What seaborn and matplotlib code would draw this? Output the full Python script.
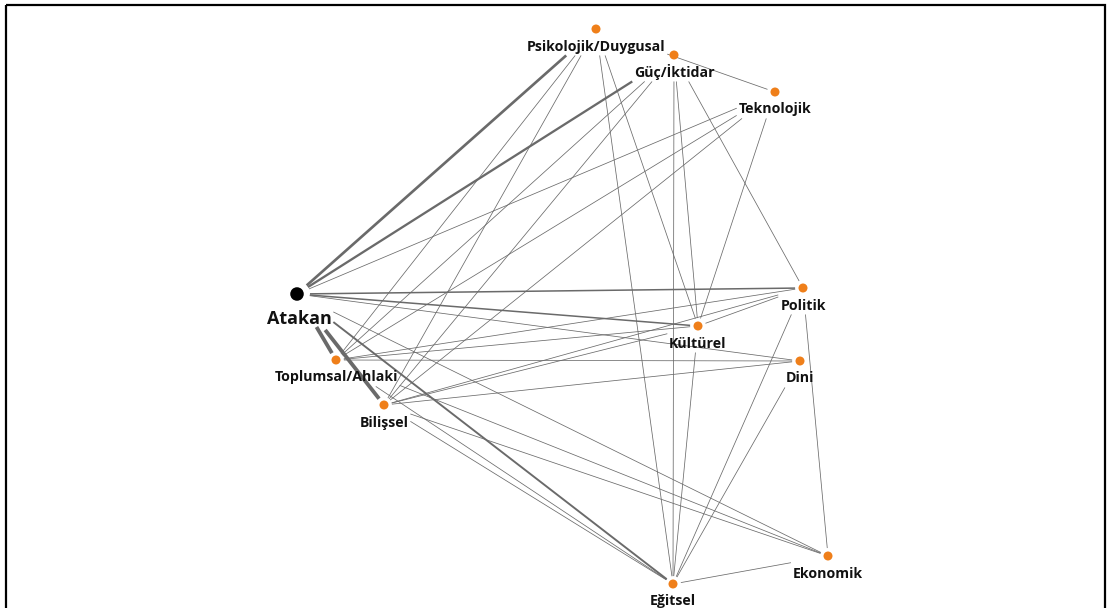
import numpy as np
import pandas as pd
import matplotlib
matplotlib.use('Agg')
import matplotlib.pyplot as plt
from matplotlib.patches import Rectangle
import seaborn as sns

# nodes of the network
nodes = ['Atakan', 'Psikolojik/Duygusal', 'Güç/İktidar', 'Teknolojik', 'Politik',
         'Kültürel', 'Dini', 'Toplumsal/Ahlaki', 'Bilişsel', 'Ekonomik', 'Eğitsel']
kinds = ['person'] + ['theme'] * 10

# edges (source, target, weight)
sources = ['Atakan'] * 10 + \
          ['Psikolojik/Duygusal'] * 5 + \
          ['Güç/İktidar'] * 5 + \
          ['Teknolojik'] * 3 + \
          ['Politik'] * 5 + \
          ['Kültürel'] * 3 + \
          ['Dini'] * 3 + \
          ['Ekonomik'] * 3 + \
          ['Eğitsel'] * 2
targets = ['Psikolojik/Duygusal', 'Güç/İktidar', 'Teknolojik', 'Politik', 'Kültürel',
           'Dini', 'Toplumsal/Ahlaki', 'Bilişsel', 'Eğitsel', 'Ekonomik',
           'Toplumsal/Ahlaki', 'Bilişsel', 'Eğitsel', 'Kültürel', 'Teknolojik',
           'Toplumsal/Ahlaki', 'Bilişsel', 'Eğitsel', 'Kültürel', 'Politik',
           'Toplumsal/Ahlaki', 'Bilişsel', 'Kültürel',
           'Toplumsal/Ahlaki', 'Bilişsel', 'Kültürel', 'Eğitsel', 'Ekonomik',
           'Toplumsal/Ahlaki', 'Bilişsel', 'Eğitsel',
           'Toplumsal/Ahlaki', 'Bilişsel', 'Eğitsel',
           'Toplumsal/Ahlaki', 'Bilişsel', 'Eğitsel',
           'Toplumsal/Ahlaki', 'Bilişsel']
weights = [3.5, 3, 1, 2, 2, 1, 5, 5, 2.5, 1] + [1] * 29

# layout (pixel coordinates of the force layout)
layout_x = [297, 596, 674, 775, 803, 698, 800, 336, 384, 828, 673]
layout_y = [294, 29, 55, 92, 288, 326, 361, 360, 405, 556, 584]

W, H = 1111, 608
sns.set_theme(style='white')
plt.rcParams['font.family'] = ['Open Sans', 'DejaVu Sans']

fig = plt.figure(figsize=(W / 100, H / 100), dpi=100)
ax = fig.add_axes([0, 0, 1, 1])
ax.set_xlim(0, W)
ax.set_ylim(H, 0)
ax.axis('off')

df = pd.DataFrame({'name': nodes, 'x': layout_x, 'y': layout_y, 'kind': kinds})
pos = {r.name: np.array([r.x, r.y], dtype=float) for r in df.itertuples()}

# labels below the nodes
labels = {}
for r in df.itertuples():
    big = r.kind == 'person'
    labels[r.name] = ax.text(r.x + (2 if big else 0), r.y + (30 if big else 21.5), r.name,
                             ha='center', va='baseline', fontweight='bold',
                             fontsize=13 if big else 10.2, color='#111111', zorder=4)

fig.canvas.draw()
renderer = fig.canvas.get_renderer()
inv = ax.transData.inverted()
boxes = {}
for name, t in labels.items():
    bb = t.get_window_extent(renderer)
    (x0, y0), (x1, y1) = inv.transform([[bb.x0, bb.y0], [bb.x1, bb.y1]])
    top = min(y0, y1) - 1
    if name != 'Atakan':
        top = min(top, pos[name][1] + 5)
    boxes[name] = (min(x0, x1) - 2, max(x0, x1) + 2, top, max(y0, y1) + 2)
radius = {n: (13 if k == 'person' else 8) for n, k in zip(nodes, kinds)}


def hidden(name, pts):
    c = pos[name]
    x0, x1, y0, y1 = boxes[name]
    in_circle = np.hypot(pts[:, 0] - c[0], pts[:, 1] - c[1]) < radius[name]
    in_box = (pts[:, 0] > x0) & (pts[:, 0] < x1) & (pts[:, 1] > y0) & (pts[:, 1] < y1)
    return in_circle | in_box


u = np.linspace(0, 1, 3000)
for s, t, w in zip(sources, targets, weights):
    pts = pos[s] + u[:, None] * (pos[t] - pos[s])
    hs = hidden(s, pts) & (u <= 0.5)
    ht = hidden(t, pts) & (u >= 0.5)
    u0 = u[hs].max() if hs.any() else 0
    u1 = u[ht].min() if ht.any() else 1
    p0 = pos[s] + u0 * (pos[t] - pos[s])
    p1 = pos[s] + u1 * (pos[t] - pos[s])
    ax.plot([p0[0], p1[0]], [p0[1], p1[1]], color='#6a6a6a', lw=0.55 * w,
            solid_capstyle='butt', zorder=1)

sns.scatterplot(data=df, x='x', y='y', hue='kind', size='kind',
                palette={'person': 'black', 'theme': '#ef7f1a'},
                sizes={'person': 95, 'theme': 42}, linewidth=0,
                legend=False, ax=ax, zorder=3)
ax.set_xlim(0, W)
ax.set_ylim(H, 0)
ax.axis('off')

ax.add_patch(Rectangle((6, 5), 1099, 620, fill=False, edgecolor='black',
                       lw=1.6, clip_on=False, zorder=5))

fig.savefig('out.png', dpi=100)
